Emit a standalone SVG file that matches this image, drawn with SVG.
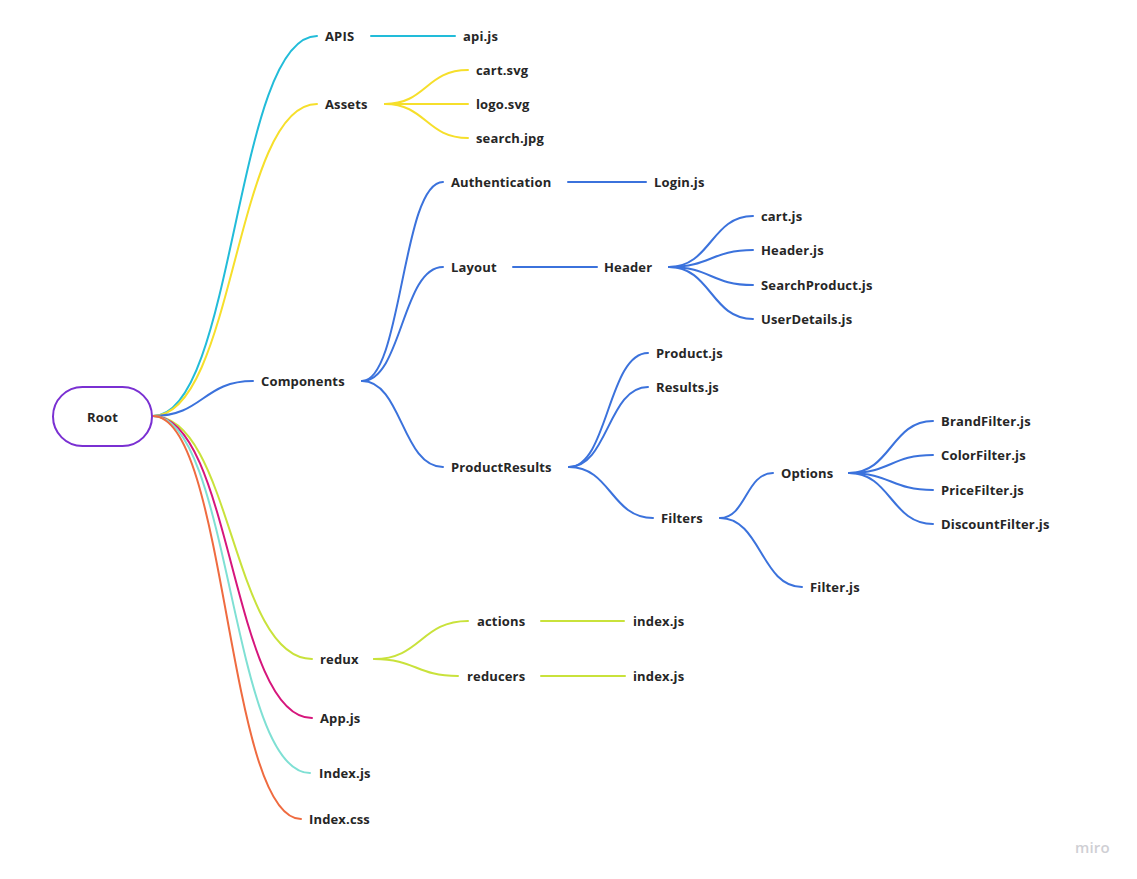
<svg xmlns="http://www.w3.org/2000/svg" width="1137" height="879" viewBox="0 0 1137 879">
<style>
text{font-family:"Open Sans","Liberation Sans",sans-serif;font-weight:700;font-size:13px;fill:#262626;dominant-baseline:central;letter-spacing:0.15px}
path{fill:none;stroke-width:2;stroke-linecap:round}
.cy{stroke:#22bcd9}.ye{stroke:#f6df2b}.bl{stroke:#3b72dc}.li{stroke:#c9e23b}.mg{stroke:#d6167c}.aq{stroke:#7fe0d4}.or{stroke:#ef6b40}
</style>
<rect width="1137" height="879" fill="#ffffff"/>
<g id="connectors">
<path class="cy" d="M153 416 C235 416 235 36 317 36"/>
<path class="ye" d="M153 416 C235 416 235 104 317 104"/>
<path class="bl" d="M153 416 C203 416 203 381 253 381"/>
<path class="li" d="M153 416 C232 416 232 659 312 659"/>
<path class="mg" d="M153 416 C232 416 232 718 312 718"/>
<path class="aq" d="M153 416 C231 416 231 773 310 773"/>
<path class="or" d="M153 416 C227 416 227 819 301 819"/>
<path class="cy" d="M371 36 L455 36"/>
<path class="ye" d="M385 104 C426 104 426 70 468 70"/>
<path class="ye" d="M385 104 L468 104"/>
<path class="ye" d="M385 104 C426 104 426 138 468 138"/>
<path class="bl" d="M362 381 C402 381 402 182 443 182"/>
<path class="bl" d="M362 381 C402 381 402 267 443 267"/>
<path class="bl" d="M362 381 C402 381 402 467 443 467"/>
<path class="bl" d="M568 182 L646 182"/>
<path class="bl" d="M513 267 L597 267"/>
<path class="bl" d="M669 267 C711 267 711 216 753 216"/>
<path class="bl" d="M669 267 C711 267 711 250 753 250"/>
<path class="bl" d="M669 267 C711 267 711 285 753 285"/>
<path class="bl" d="M669 267 C711 267 711 319 753 319"/>
<path class="bl" d="M569 467 C608 467 608 353 648 353"/>
<path class="bl" d="M569 467 C608 467 608 387 648 387"/>
<path class="bl" d="M569 467 C611 467 611 518 653 518"/>
<path class="bl" d="M720 518 C746 518 746 473 773 473"/>
<path class="bl" d="M720 518 C761 518 761 587 802 587"/>
<path class="bl" d="M849 473 C891 473 891 421 933 421"/>
<path class="bl" d="M849 473 C891 473 891 455 933 455"/>
<path class="bl" d="M849 473 C891 473 891 490 933 490"/>
<path class="bl" d="M849 473 C891 473 891 524 933 524"/>
<path class="li" d="M374 659 C421 659 421 621 468 621"/>
<path class="li" d="M374 659 C416 659 416 676 458 676"/>
<path class="li" d="M541 621 L624 621"/>
<path class="li" d="M541 676 L625 676"/>
</g>
<g id="root"><rect x="53" y="387" width="99" height="59" rx="29.5" fill="#fff" stroke="#7a30d2" stroke-width="2"/><text x="102.5" y="416.5" text-anchor="middle">Root</text></g>
<g id="apis"><text x="325" y="36">APIS</text></g>
<g id="api-js"><text x="463" y="36">api.js</text></g>
<g id="assets"><text x="325" y="104">Assets</text></g>
<g id="cart-svg"><text x="476" y="70">cart.svg</text></g>
<g id="logo-svg"><text x="476" y="104">logo.svg</text></g>
<g id="search-jpg"><text x="476" y="138">search.jpg</text></g>
<g id="components"><text x="261" y="381">Components</text></g>
<g id="authentication"><text x="451" y="182">Authentication</text></g>
<g id="login-js"><text x="654" y="182">Login.js</text></g>
<g id="layout"><text x="451" y="267">Layout</text></g>
<g id="header"><text x="604" y="267">Header</text></g>
<g id="cart-js"><text x="761" y="216">cart.js</text></g>
<g id="header-js"><text x="761" y="250">Header.js</text></g>
<g id="searchproduct-js"><text x="761" y="285">SearchProduct.js</text></g>
<g id="userdetails-js"><text x="761" y="319">UserDetails.js</text></g>
<g id="productresults"><text x="451" y="467">ProductResults</text></g>
<g id="product-js"><text x="656" y="353">Product.js</text></g>
<g id="results-js"><text x="656" y="387">Results.js</text></g>
<g id="filters"><text x="661" y="518">Filters</text></g>
<g id="options"><text x="781" y="473">Options</text></g>
<g id="filter-js"><text x="810" y="587">Filter.js</text></g>
<g id="brandfilter-js"><text x="941" y="421">BrandFilter.js</text></g>
<g id="colorfilter-js"><text x="941" y="455">ColorFilter.js</text></g>
<g id="pricefilter-js"><text x="941" y="490">PriceFilter.js</text></g>
<g id="discountfilter-js"><text x="941" y="524">DiscountFilter.js</text></g>
<g id="redux"><text x="320" y="659">redux</text></g>
<g id="actions"><text x="477" y="621">actions</text></g>
<g id="actions-index-js"><text x="633" y="621">index.js</text></g>
<g id="reducers"><text x="467" y="676">reducers</text></g>
<g id="reducers-index-js"><text x="633" y="676">index.js</text></g>
<g id="app-js"><text x="320" y="718">App.js</text></g>
<g id="index-js"><text x="319" y="773">Index.js</text></g>
<g id="index-css"><text x="309" y="819">Index.css</text></g>
<text x="1075" y="847" style="font-size:15px;font-weight:600;fill:#cfcfd4">miro</text>
</svg>
